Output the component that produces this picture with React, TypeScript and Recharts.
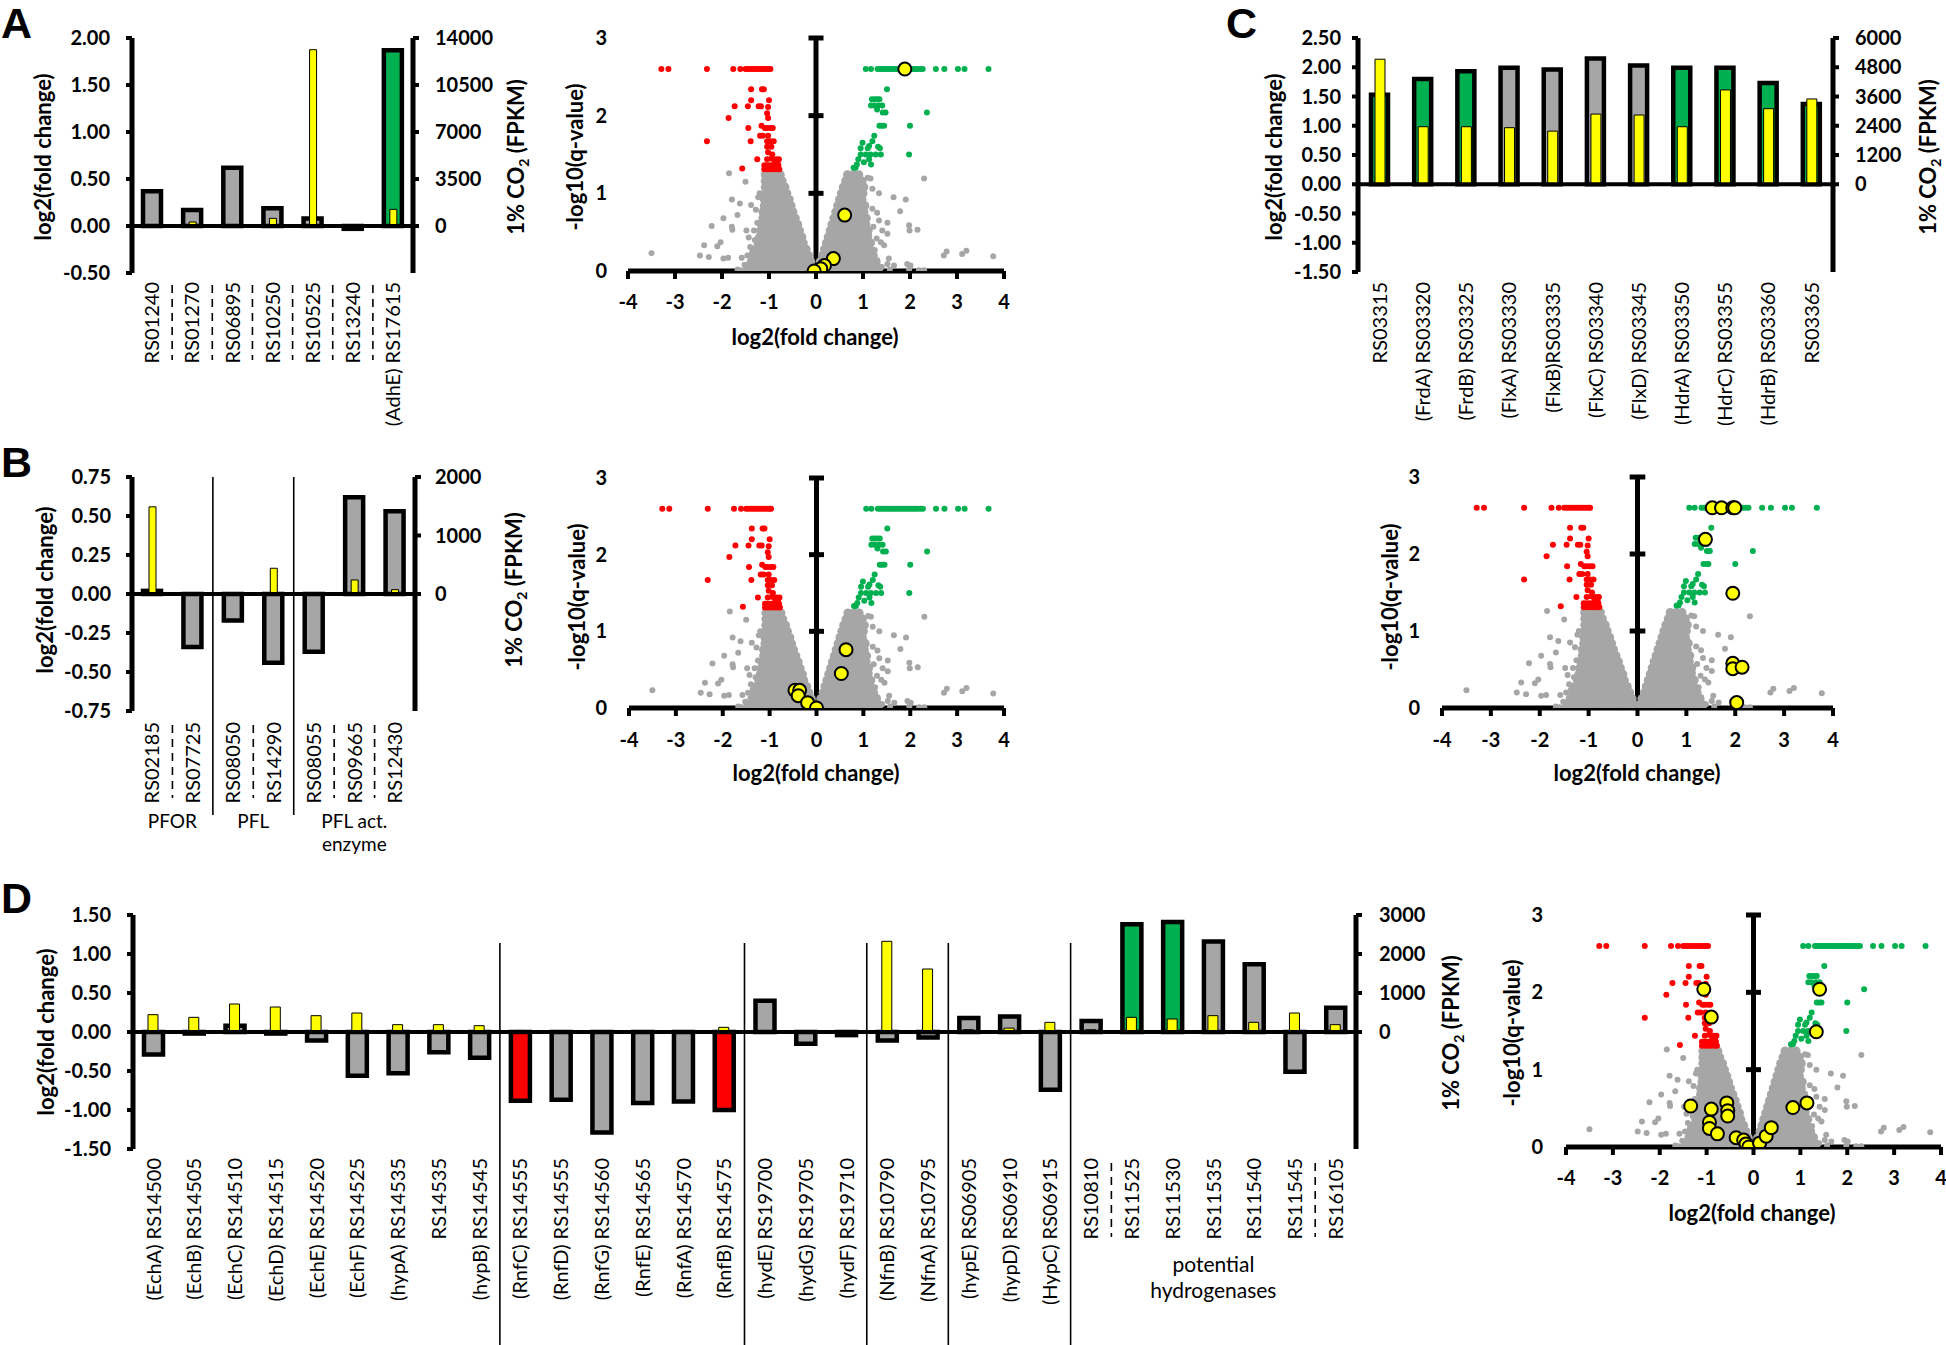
import React from "react";
import { ComposedChart, Bar, Cell, XAxis, YAxis, ReferenceLine, ScatterChart, Scatter } from "recharts";

const FONT = "Lato, 'Open Sans', sans-serif";
const GRAY = "#A6A6A6";
const GREEN = "#00B050";
const RED = "#FF0000";
const YELLOW = "#FFFF00";

type Sig = "n" | "up" | "down";

// ---------- panel A (bars)
const aGenes = ["RS01240", "RS01270", "RS06895", "RS10250", "RS10525", "RS13240", "(AdhE) RS17615"];
const aLog2 = [0.37, 0.17, 0.62, 0.19, 0.08, -0.03, 1.87];
const aFpkm = [40, 300, 100, 570, 13130, 30, 1240];
const aSig: Sig[] = ["n", "n", "n", "n", "n", "n", "up"];

// ---------- panel B (bars)
const bGenes = ["RS02185", "RS07725", "RS08050", "RS14290", "RS08055", "RS09665", "RS12430"];
const bLog2 = [0.02, -0.34, -0.17, -0.44, -0.37, 0.62, 0.53];
const bFpkm = [1490, 5, 5, 440, 0, 240, 74];
const bSig: Sig[] = ["n", "n", "n", "n", "n", "n", "n"];

// ---------- panel C (bars)
const cGenes = ["RS03315", "(FrdA) RS03320", "(FrdB) RS03325", "(FlxA) RS03330", "(FlxB)RS03335", "(FlxC) RS03340",
  "(FlxD) RS03345", "(HdrA) RS03350", "(HdrC) RS03355", "(HdrB) RS03360", "RS03365"];
const cLog2 = [1.53, 1.8, 1.93, 1.99, 1.96, 2.15, 2.03, 1.99, 1.99, 1.73, 1.37];
const cFpkm = [5130, 2360, 2360, 2320, 2180, 2880, 2840, 2360, 3870, 3100, 3500];
const cSig: Sig[] = ["up", "up", "up", "n", "n", "n", "n", "up", "up", "up", "up"];

// ---------- panel D (bars)
const dGenes = ["(EchA) RS14500", "(EchB) RS14505", "(EchC) RS14510", "(EchD) RS14515", "(EchE) RS14520", "(EchF) RS14525",
  "(hypA) RS14535", "RS14535", "(hypB) RS14545", "(RnfC) RS14555", "(RnfD) RS14555", "(RnfG) RS14560", "(RnfE) RS14565",
  "(RnfA) RS14570", "(RnfB) RS14575", "(hydE) RS19700", "(hydG) RS19705", "(hydF) RS19710", "(NfnB) RS10790",
  "(NfnA) RS10795", "(hypE) RS06905", "(hypD) RS06910", "(HypC) RS06915", "RS10810", "RS11525", "RS11530", "RS11535",
  "RS11540", "RS11545", "RS16105"];
const dLog2 = [-0.29, -0.02, 0.08, -0.02, -0.11, -0.56, -0.53, -0.26, -0.33, -0.88, -0.87, -1.29, -0.91, -0.89, -1.0,
  0.4, -0.15, -0.04, -0.11, -0.07, 0.18, 0.2, -0.74, 0.14, 1.38, 1.41, 1.16, 0.87, -0.51, 0.31];
const dFpkm = [444, 376, 718, 641, 419, 487, 188, 188, 162, 40, 30, 20, 30, 30, 120, 0, 0, 0, 2325, 1615, 60, 100,
  248, 60, 376, 333, 419, 248, 487, 188];
const dSig: Sig[] = ["n", "n", "n", "n", "n", "n", "n", "n", "n", "down", "n", "n", "n", "n", "down", "n", "n", "n",
  "n", "n", "n", "n", "n", "n", "up", "up", "n", "n", "n", "n"];

// ---------- volcano points (same transcriptome in every panel)
const grayCoreRows: [number, number[]][] = [
  [1.24, [-1.08, -0.96, -0.84, -0.76, 0.67, 0.79, 0.91]],
  [1.16, [-1.08, -0.96, -0.84, -0.72, 0.63, 0.75, 0.87, 0.98]],
  [1.08, [-1.08, -0.96, -0.84, -0.72, -0.66, 0.58, 0.7, 0.82, 0.94, 1.02]],
  [1.0, [-1.08, -0.96, -0.84, -0.72, -0.62, 0.54, 0.66, 0.78, 0.9, 1.0]],
  [0.92, [-1.1, -0.98, -0.86, -0.74, -0.62, -0.57, 0.5, 0.62, 0.74, 0.86, 0.98]],
  [0.84, [-1.1, -0.98, -0.86, -0.74, -0.62, -0.53, 0.46, 0.58, 0.7, 0.82, 0.94, 1.04]],
  [0.76, [-1.13, -1.01, -0.89, -0.77, -0.65, -0.53, -0.49, 0.42, 0.54, 0.66, 0.78, 0.9, 1.02]],
  [0.68, [-1.13, -1.01, -0.89, -0.77, -0.65, -0.53, -0.44, 0.38, 0.5, 0.62, 0.74, 0.86, 0.98, 1.07]],
  [0.6, [-1.16, -1.04, -0.92, -0.8, -0.68, -0.56, -0.44, -0.39, 0.34, 0.46, 0.58, 0.7, 0.82, 0.94, 1.06]],
  [0.52, [-1.18, -1.06, -0.94, -0.82, -0.7, -0.58, -0.46, -0.35, 0.3, 0.42, 0.54, 0.66, 0.78, 0.9, 1.02, 1.11]],
  [0.44, [-1.2, -1.08, -0.96, -0.84, -0.72, -0.6, -0.48, -0.36, -0.3, 0.26, 0.38, 0.5, 0.62, 0.74, 0.86, 0.98, 1.1]],
  [0.36, [-1.23, -1.11, -0.99, -0.87, -0.75, -0.63, -0.51, -0.39, -0.27, 0.22, 0.34, 0.46, 0.58, 0.7, 0.82, 0.94, 1.06, 1.16]],
  [0.28, [-1.28, -1.16, -1.04, -0.92, -0.8, -0.68, -0.56, -0.44, -0.32, -0.21, 0.18, 0.3, 0.42, 0.54, 0.66, 0.78, 0.9, 1.02, 1.14]],
  [0.2, [-1.33, -1.21, -1.09, -0.97, -0.85, -0.73, -0.61, -0.49, -0.37, -0.25, -0.16, 0.14, 0.26, 0.38, 0.5, 0.62, 0.74, 0.86, 0.98, 1.1, 1.22]],
  [0.12, [-1.38, -1.26, -1.14, -1.02, -0.9, -0.78, -0.66, -0.54, -0.42, -0.3, -0.2, -0.11, 0.09, 0.21, 0.33, 0.45, 0.57, 0.69, 0.81, 0.93, 1.05, 1.17, 1.28]],
  [0.04, [-1.43, -1.31, -1.19, -1.07, -0.95, -0.83, -0.71, -0.59, -0.47, -0.35, -0.23, -0.12, -0.05, 0.04, 0.14, 0.26, 0.38, 0.5, 0.62, 0.74, 0.86, 0.98, 1.1, 1.22, 1.34]],
];

const grayOut: [number, number][] = [
  [-3.5, 0.23], [-2.47, 0.2], [-2.38, 0.33], [-2.28, 0.18], [-2.22, 0.58], [-2.1, 0.32], [-2.03, 0.37], [-1.97, 0.68],
  [-1.97, 0.16], [-1.87, 0.17], [-1.85, 1.26], [-1.79, 0.92], [-1.78, 0.53], [-1.79, 0.57], [-1.67, 0.72], [-1.62, 0.87],
  [-1.58, 0.17], [-1.5, 1.15], [-1.48, 0.52], [-1.46, 0.2], [-1.43, 0.43], [-1.4, 0.31], [-1.38, 0.85], [-1.32, 0.52],
  [-1.28, 0.79], [-1.23, 0.95], [-1.21, 0.52], [-1.19, 0.33], [-1.14, 0.65], [-1.67, 0.02], [-1.6, 0.01], [-1.5, 0.02],
  [-1.4, 0.03], [-1.32, 0.01], [-1.25, 0.03], [-1.33, 0.14], [-1.52, 0.08], [-1.2, 1.0], [-1.25, 0.62], [-1.3, 0.4],
  [-1.36, 0.24], [2.3, 1.19], [1.65, 0.95], [1.91, 0.92], [1.79, 0.77], [1.34, 1.0], [1.16, 1.19], [1.2, 1.06],
  [1.3, 0.75], [1.52, 0.62], [1.41, 0.52], [1.45, 0.33], [1.52, 0.48], [1.98, 0.59], [1.99, 0.52], [2.16, 0.53],
  [1.34, 0.65], [1.22, 0.57], [1.13, 0.46], [1.29, 0.42], [1.38, 0.37], [1.55, 0.16], [1.52, 0.09], [1.66, 0.07],
  [1.57, 0.02], [1.94, 0.09], [2.01, 0.07], [1.98, 0.02], [2.19, 0.01], [2.3, 0.01], [2.72, 0.2], [2.78, 0.25],
  [3.11, 0.22], [3.2, 0.26], [3.77, 0.19], [0.99, 1.08], [1.04, 0.86], [1.09, 0.68], [1.2, 0.8], [1.23, 0.18],
  [1.3, 0.14], [1.13, 0.09], [0.95, 0.07], [1.25, 0.27], [1.4, 0.05], [1.1, 1.2],
];

const redPts: [number, number][] = [
  [-3.29, 2.6], [-3.14, 2.6], [-2.32, 2.6], [-1.76, 2.6], [-1.61, 2.6], [-1.5, 2.6], [-1.45, 2.6], [-1.4, 2.6],
  [-1.35, 2.6], [-1.3, 2.6], [-1.25, 2.6], [-1.2, 2.6], [-1.15, 2.6], [-1.1, 2.6], [-1.05, 2.6], [-1.0, 2.6],
  [-0.97, 2.6], [-1.38, 2.34], [-1.15, 2.34], [-1.11, 2.34], [-1.38, 2.2], [-1.0, 2.2], [-1.73, 2.12], [-1.45, 2.12],
  [-1.22, 2.12], [-1.17, 2.12], [-1.02, 2.11], [-1.04, 2.03], [-1.86, 1.97], [-1.02, 1.97], [-1.16, 1.87],
  [-1.44, 1.84], [-1.09, 1.84], [-1.04, 1.84], [-0.97, 1.84], [-0.92, 1.84], [-1.19, 1.74], [-1.13, 1.74],
  [-1.02, 1.74], [-2.32, 1.67], [-1.39, 1.67], [-1.04, 1.67], [-0.97, 1.67], [-0.9, 1.67], [-1.04, 1.6],
  [-0.95, 1.6], [-1.02, 1.53], [-0.93, 1.5], [-1.25, 1.44], [-1.04, 1.44], [-0.79, 1.44], [-0.85, 1.44],
  [-1.57, 1.32], [-1.1, 1.36], [-1.04, 1.36], [-0.98, 1.36], [-0.92, 1.36], [-0.85, 1.36], [-0.8, 1.36],
  [-1.1, 1.31], [-1.03, 1.31], [-0.96, 1.31], [-0.9, 1.31], [-0.83, 1.31], [-0.78, 1.31], [-0.88, 1.41],
  [-0.95, 1.45], [-0.82, 1.4],
];

const greenPts: [number, number][] = [
  [1.06, 2.6], [1.17, 2.6], [1.31, 2.6], [1.36, 2.6], [1.41, 2.6], [1.46, 2.6], [1.51, 2.6], [1.56, 2.6], [1.61, 2.6],
  [1.66, 2.6], [1.71, 2.6], [1.76, 2.6], [1.81, 2.6], [1.86, 2.6], [1.91, 2.6], [1.96, 2.6], [2.01, 2.6], [2.06, 2.6],
  [2.11, 2.6], [2.16, 2.6], [2.22, 2.6], [2.27, 2.6], [2.55, 2.6], [2.73, 2.6], [3.02, 2.6], [3.16, 2.6], [3.67, 2.6],
  [1.51, 2.34], [1.19, 2.21], [1.25, 2.21], [1.3, 2.21], [1.35, 2.21], [1.17, 2.13], [1.24, 2.13], [1.33, 2.13],
  [1.41, 2.13], [1.3, 2.08], [1.42, 2.04], [1.48, 2.04], [2.36, 2.04], [1.35, 1.87], [1.4, 1.87], [1.45, 1.87],
  [2.0, 1.87], [1.24, 1.74], [1.2, 1.67], [0.99, 1.65], [1.13, 1.61], [1.32, 1.6], [0.95, 1.58], [1.1, 1.58],
  [1.36, 1.58], [0.95, 1.5], [1.06, 1.5], [1.16, 1.5], [1.27, 1.5], [1.38, 1.5], [1.98, 1.5], [0.9, 1.44],
  [1.13, 1.44], [1.02, 1.4], [1.17, 1.37], [0.87, 1.37], [0.84, 1.33], [0.8, 1.33],
];

const aYellow: [number, number][] = [[1.89, 2.6], [0.61, 0.72], [0.37, 0.16], [0.18, 0.07], [0.1, 0.03], [-0.04, 0.0]];
const bYellow: [number, number][] = [[0.63, 0.76], [0.53, 0.45], [-0.46, 0.23], [-0.36, 0.23], [-0.39, 0.16], [-0.19, 0.07], [0.0, 0.0]];
const cYellow: [number, number][] = [[1.53, 2.6], [1.72, 2.6], [1.95, 2.6], [1.99, 2.6], [1.39, 2.19], [1.95, 1.49],
  [1.95, 0.58], [1.95, 0.51], [2.14, 0.53], [2.03, 0.07]];
const dYellow: [number, number][] = [[-1.06, 2.04], [-0.9, 1.68], [-1.34, 0.53], [-0.9, 0.49], [-0.94, 0.32], [-0.94, 0.24],
  [-0.77, 0.17], [-0.57, 0.57], [-0.55, 0.47], [-0.55, 0.4], [-0.37, 0.12], [-0.21, 0.09], [-0.16, 0.04], [-0.1, 0.0],
  [0.13, 0.05], [0.27, 0.14], [0.38, 0.25], [0.84, 0.51], [1.14, 0.57], [1.41, 2.04], [1.34, 1.49]];

const volcanoXTicks = [-4, -3, -2, -1, 0, 1, 2, 3, 4];
const volcanoYTicks = [0, 1, 2, 3];

const toPts = (arr: [number, number][]) => arr.map(([x, y]) => ({ x, y }));
const grayCore = grayCoreRows.flatMap(([y, xs]) => xs.map((x) => ({ x, y })));

const sigColor = (s: Sig) => (s === "up" ? GREEN : s === "down" ? RED : GRAY);

interface CatCfg {
  labels: string[];
  band: number;
  labelTop: number;
  dashes?: number[];
  dashY?: [number, number];
  seps?: number[];
  sepY?: [number, number];
  groups?: { start: number; end: number; lines: string[] }[];
  groupY?: number[];
  groupSize?: number;
}

function CatTick(props: any) {
  const { x, y, index, cfg } = props as { x: number; y: number; index: number; cfg: CatCfg };
  const edge = x - cfg.band / 2;
  const group = cfg.groups?.find((g) => g.start === index);
  return (
    <g>
      <text transform={`translate(${x},${y + cfg.labelTop}) rotate(-90)`} textAnchor="end" dy="0.36em"
        fontSize={20} fontFamily={FONT} fill="#000">{cfg.labels[index]}</text>
      {cfg.dashes && cfg.dashY && cfg.dashes.includes(index) && (
        <line x1={edge} x2={edge} y1={y + cfg.dashY[0]} y2={y + cfg.dashY[1]} stroke="#000" strokeWidth={1.6} strokeDasharray="8 6" />
      )}
      {cfg.seps && cfg.sepY && cfg.seps.includes(index) && (
        <line x1={edge} x2={edge} y1={y + cfg.sepY[0]} y2={y + cfg.sepY[1]} stroke="#000" strokeWidth={1.6} />
      )}
      {group && cfg.groupY && group.lines.map((ln, k) => (
        <text key={k} x={x + ((group.end - group.start) * cfg.band) / 2} y={y + cfg.groupY![k]} textAnchor="middle"
          fontSize={cfg.groupSize ?? 20} fontFamily={FONT} fill="#000">{ln}</text>
      ))}
    </g>
  );
}

const tickBold = { fill: "#000", fontSize: 20, fontWeight: 700, fontFamily: FONT };

interface BarPanelProps {
  left: number; top: number; width: number; height: number;
  margin: { top: number; right: number; bottom: number; left: number };
  leftW: number; rightW: number; xH: number;
  log2: number[]; fpkm: number[]; sig: Sig[];
  lDomain: [number, number]; lTicks: number[]; lMargin: number;
  rDomain: [number, number]; rTicks: number[]; rMargin: number;
  barW: number; yelW: number;
  cat: CatCfg;
}

function BarPanel(p: BarPanelProps) {
  const data = p.log2.map((v, i) => ({ name: String(i), log2: v, fpkm: p.fpkm[i] }));
  return (
    <div style={{ position: "absolute", left: p.left, top: p.top }}>
      <ComposedChart width={p.width} height={p.height} data={data} margin={p.margin}>
        <XAxis xAxisId="fc" dataKey="name" interval={0} axisLine={false} tickLine={false} tickSize={0} tickMargin={0}
          height={p.xH} tick={(t: any) => <CatTick {...t} cfg={p.cat} />} />
        <XAxis xAxisId="fp" dataKey="name" hide />
        <YAxis yAxisId="l" orientation="left" width={p.leftW} domain={p.lDomain} ticks={p.lTicks} allowDataOverflow
          axisLine={{ stroke: "#000", strokeWidth: 5 }} tickLine={{ stroke: "#000", strokeWidth: 4 }} tickSize={6}
          tickMargin={p.lMargin} tick={tickBold} tickFormatter={(v: number) => v.toFixed(2)} interval={0} />
        <YAxis yAxisId="r" orientation="right" width={p.rightW} domain={p.rDomain} ticks={p.rTicks} allowDataOverflow
          axisLine={{ stroke: "#000", strokeWidth: 5 }} tickLine={{ stroke: "#000", strokeWidth: 4 }} tickSize={6}
          tickMargin={p.rMargin} tick={{ ...tickBold, textAnchor: "start" }} interval={0} />
        <Bar xAxisId="fc" yAxisId="l" dataKey="log2" barSize={p.barW} stroke="#000" strokeWidth={4.5} isAnimationActive={false}>
          {data.map((_, i) => <Cell key={i} fill={sigColor(p.sig[i])} stroke="#000" strokeWidth={4.5} />)}
        </Bar>
        <ReferenceLine xAxisId="fc" yAxisId="l" y={0} stroke="#000" strokeWidth={4} />
        <Bar xAxisId="fp" yAxisId="r" dataKey="fpkm" barSize={p.yelW} fill={YELLOW} stroke="#000" strokeWidth={1}
          isAnimationActive={false} />
      </ComposedChart>
    </div>
  );
}

interface VolcanoProps {
  left: number; top: number; width: number; height: number;
  margin: { top: number; right: number; bottom: number; left: number };
  yW: number; yMargin: number; xMargin: number;
  yellow: [number, number][];
}

const dot = (r: number, fill: string) => (s: any) => <circle cx={s.cx} cy={s.cy} r={r} fill={fill} />;
const yellowDot = (s: any) => <circle cx={s.cx} cy={s.cy} r={6.5} fill={YELLOW} stroke="#000" strokeWidth={2} />;

function Volcano(p: VolcanoProps) {
  return (
    <div style={{ position: "absolute", left: p.left, top: p.top }}>
      <ScatterChart width={p.width} height={p.height} margin={p.margin}>
        <XAxis type="number" dataKey="x" domain={[-4, 4]} ticks={volcanoXTicks} allowDataOverflow interval={0}
          axisLine={{ stroke: "#000", strokeWidth: 5 }} tickLine={{ stroke: "#000", strokeWidth: 4 }} tickSize={8}
          tickMargin={p.xMargin} height={60} tick={tickBold} />
        <YAxis type="number" dataKey="y" domain={[0, 3]} ticks={volcanoYTicks} allowDataOverflow interval={0}
          axisLine={false} tickLine={false} tickSize={0} tickMargin={p.yMargin} width={p.yW} tick={tickBold} />
        <Scatter data={grayCore} shape={dot(4.5, GRAY)} isAnimationActive={false} />
        <Scatter data={toPts(grayOut)} shape={dot(3, GRAY)} isAnimationActive={false} />
        <Scatter data={toPts(redPts)} shape={dot(3, RED)} isAnimationActive={false} />
        <Scatter data={toPts(greenPts)} shape={dot(3, GREEN)} isAnimationActive={false} />
        <ReferenceLine x={0} stroke="#000" strokeWidth={5} />
        {volcanoYTicks.slice(1).map((k) => (
          <ReferenceLine key={k} segment={[{ x: -0.16, y: k }, { x: 0.16, y: k }]} stroke="#000" strokeWidth={5} />
        ))}
        <Scatter data={toPts(p.yellow)} shape={yellowDot} isAnimationActive={false} />
      </ScatterChart>
    </div>
  );
}

function VTitle({ x, y, children }: { x: number; y: number; children: React.ReactNode }) {
  return (
    <div style={{ position: "absolute", left: x, top: y, transform: "translate(-50%,-50%) rotate(-90deg)",
      whiteSpace: "nowrap", fontFamily: FONT, fontWeight: 700, fontSize: 22, lineHeight: 1 }}>{children}</div>
  );
}

function HTitle({ x, y, children }: { x: number; y: number; children: React.ReactNode }) {
  return (
    <div style={{ position: "absolute", left: x, top: y, transform: "translate(-50%,-50%)",
      whiteSpace: "nowrap", fontFamily: FONT, fontWeight: 700, fontSize: 22, lineHeight: 1 }}>{children}</div>
  );
}

// panel letter: y is the baseline
function Letter({ x, y, children }: { x: number; y: number; children: string }) {
  return (
    <svg style={{ position: "absolute", left: x, top: y - 36, overflow: "visible" }} width={40} height={44}>
      <text x={0} y={36} fontFamily="'Liberation Sans', Arial, sans-serif" fontWeight={700} fontSize={43} fill="#000">
        {children}
      </text>
    </svg>
  );
}

const Fpkm = () => (
  <span>1% CO<sub style={{ fontSize: 14 }}>2</sub> (FPKM)</span>
);

export default function App() {
  return (
    <div style={{ position: "absolute", left: 0, top: 0, width: 1946, height: 1345, background: "#fff", overflow: "hidden" }}>
      {/* A */}
      <BarPanel left={0} top={0} width={520} height={440} margin={{ top: 38, right: 17, bottom: 7, left: 0 }}
        leftW={132} rightW={90} xH={160} log2={aLog2} fpkm={aFpkm} sig={aSig}
        lDomain={[-0.5, 2]} lTicks={[-0.5, 0, 0.5, 1, 1.5, 2]} lMargin={16}
        rDomain={[-3500, 14000]} rTicks={[0, 3500, 7000, 10500, 14000]} rMargin={16} barW={18} yelW={7}
        cat={{ labels: aGenes, band: 40.1, labelTop: 9, dashes: [1, 2, 3, 4, 5, 6], dashY: [12, 87] }} />
      <Volcano left={520} top={0} width={500} height={360} margin={{ top: 38, right: 16, bottom: 29, left: 0 }}
        yW={108} yMargin={21} xMargin={16} yellow={aYellow} />

      {/* B */}
      <BarPanel left={0} top={440} width={520} height={420} margin={{ top: 37, right: 15, bottom: 9, left: 0 }}
        leftW={132} rightW={90} xH={140} log2={bLog2} fpkm={bFpkm} sig={bSig}
        lDomain={[-0.75, 0.75]} lTicks={[-0.75, -0.5, -0.25, 0, 0.25, 0.5, 0.75]} lMargin={15}
        rDomain={[-2000, 2000]} rTicks={[0, 1000, 2000]} rMargin={14} barW={18} yelW={7}
        cat={{ labels: bGenes, band: 40.4, labelTop: 11, dashes: [1, 3, 5, 6], dashY: [14, 87], seps: [2, 4],
          sepY: [-234, 104], groups: [{ start: 0, end: 1, lines: ["PFOR"] }, { start: 2, end: 3, lines: ["PFL"] },
          { start: 4, end: 6, lines: ["PFL act.", "enzyme"] }], groupY: [117, 140], groupSize: 19 }} />
      <Volcano left={520} top={440} width={500} height={360} margin={{ top: 38, right: 16, bottom: 32, left: 0 }}
        yW={109} yMargin={22} xMargin={17} yellow={bYellow} />

      {/* C */}
      <BarPanel left={1240} top={0} width={706} height={460} margin={{ top: 38, right: 23, bottom: 18, left: 0 }}
        leftW={118} rightW={90} xH={170} log2={cLog2} fpkm={cFpkm} sig={cSig}
        lDomain={[-1.5, 2.5]} lTicks={[-1.5, -1, -0.5, 0, 0.5, 1, 1.5, 2, 2.5]} lMargin={11}
        rDomain={[-3600, 6000]} rTicks={[0, 1200, 2400, 3600, 4800, 6000]} rMargin={16} barW={17} yelW={10}
        cat={{ labels: cGenes, band: 43.2, labelTop: 10 }} />
      <Volcano left={1360} top={440} width={586} height={360} margin={{ top: 37, right: 113, bottom: 32, left: 0 }}
        yW={82} yMargin={22} xMargin={17} yellow={cYellow} />

      {/* D */}
      <BarPanel left={0} top={880} width={1480} height={465} margin={{ top: 35, right: 34, bottom: 6, left: 0 }}
        leftW={133} rightW={90} xH={190} log2={dLog2} fpkm={dFpkm} sig={dSig}
        lDomain={[-1.5, 1.5]} lTicks={[-1.5, -1, -0.5, 0, 0.5, 1, 1.5]} lMargin={16}
        rDomain={[-3000, 3000]} rTicks={[0, 1000, 2000, 3000]} rMargin={17} barW={19} yelW={10}
        cat={{ labels: dGenes, band: 40.8, labelTop: 9, dashes: [24, 29], dashY: [14, 88], seps: [9, 15, 18, 20, 23],
          sepY: [-206, 196], groups: [{ start: 23, end: 29, lines: ["potential", "hydrogenases"] }], groupY: [123, 149],
          groupSize: 21 }} />
      <Volcano left={1480} top={880} width={466} height={360} margin={{ top: 35, right: 5, bottom: 33, left: 0 }}
        yW={86} yMargin={23} xMargin={16} yellow={dYellow} />

      {/* axis titles */}
      <VTitle x={43} y={157}>log2(fold change)</VTitle>
      <VTitle x={518} y={157}><Fpkm /></VTitle>
      <VTitle x={575} y={157}>-log10(q-value)</VTitle>
      <HTitle x={815} y={337}>log2(fold change)</HTitle>

      <VTitle x={45} y={590}>log2(fold change)</VTitle>
      <VTitle x={516} y={590}><Fpkm /></VTitle>
      <VTitle x={577} y={597}>-log10(q-value)</VTitle>
      <HTitle x={816} y={773}>log2(fold change)</HTitle>

      <VTitle x={1274} y={157}>log2(fold change)</VTitle>
      <VTitle x={1930} y={157}><Fpkm /></VTitle>
      <VTitle x={1390} y={597}>-log10(q-value)</VTitle>
      <HTitle x={1637} y={773}>log2(fold change)</HTitle>

      <VTitle x={46} y={1032}>log2(fold change)</VTitle>
      <VTitle x={1453} y={1033}><Fpkm /></VTitle>
      <VTitle x={1512} y={1033}>-log10(q-value)</VTitle>
      <HTitle x={1752} y={1213}>log2(fold change)</HTitle>

      <Letter x={1} y={38}>A</Letter>
      <Letter x={1} y={477}>B</Letter>
      <Letter x={1226} y={38}>C</Letter>
      <Letter x={1} y={913}>D</Letter>
    </div>
  );
}
